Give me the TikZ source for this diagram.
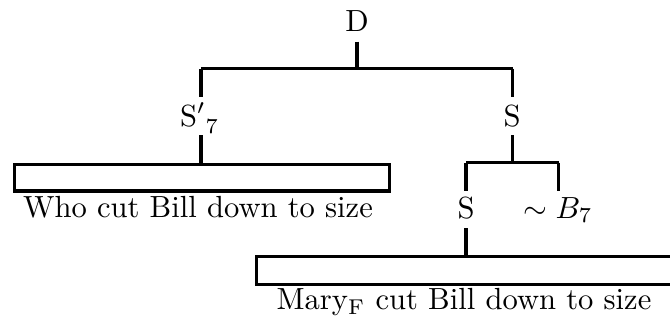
\documentclass[tikz,border=0pt]{standalone}
\begin{document}
\begin{tikzpicture}[x=0.327pt,y=-0.327pt,
  lbl/.style={anchor=base,inner sep=0pt},
  branch/.style={line width=1pt},
  leafbox/.style={draw,line width=1pt,inner sep=0pt,anchor=north west}]
\clip (0,0) rectangle (670,320);
% labels
\node[lbl] (D) at (357,31.7) {D};
\node[lbl] (Sp) at (199,126) {S$'$\raisebox{-2.3pt}{$\scriptstyle 7$}};
\node[lbl] (S1) at (512,126) {S};
\node[lbl] (who) at (198,217.5) {Who cut Bill down to size};
\node[lbl] (S2) at (466,218) {S};
\node[lbl] (B7) at (558,218) {$\sim B_7$};
\node[lbl] (mary) at (464,309.5) {Mary$_{\mathrm{F}}$ cut Bill down to size};
% leaf boxes
\node[leafbox,minimum width=122.8pt,minimum height=8.76pt] (box1) at (12.7,162.7) {};
\node[leafbox,minimum width=143.9pt,minimum height=9.3pt] (box2) at (255,254.5) {};
% junction points
\coordinate (Dt) at (357,41.7);
\coordinate (Dj) at (357,68.5);
\coordinate (Lj) at (201,68.5);
\coordinate (Rj) at (512.5,68.5);
\coordinate (Spt) at (201,97);
\coordinate (S1t) at (512.5,97);
\coordinate (Spb) at (201,135);
\coordinate (b1t) at (201,162.7);
\coordinate (S1b) at (512.5,135);
\coordinate (S1j) at (512.5,162.7);
\coordinate (Lj2) at (466,162.7);
\coordinate (Rj2) at (558.5,162.7);
\coordinate (S2t) at (466,190.5);
\coordinate (B7t) at (558.5,190.5);
\coordinate (S2b) at (466,228);
\coordinate (b2t) at (466,254.5);
% connectors
\draw[branch] (Dt) -- (Dj);
\draw[branch] (Lj) -- (Rj);
\draw[branch] (Lj) -- (Spt);
\draw[branch] (Rj) -- (S1t);
\draw[branch] (Spb) -- (b1t);
\draw[branch] (S1b) -- (S1j);
\draw[branch] (Lj2) -- (Rj2);
\draw[branch] (Lj2) -- (S2t);
\draw[branch] (Rj2) -- (B7t);
\draw[branch] (S2b) -- (b2t);
\end{tikzpicture}
\end{document}
